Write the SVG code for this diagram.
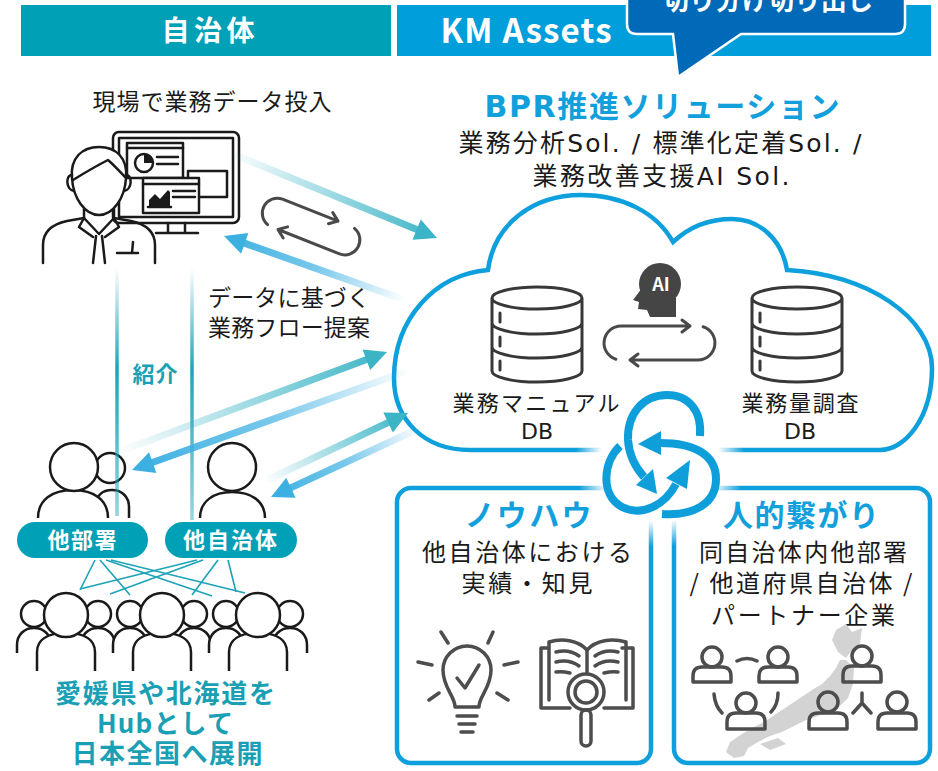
<svg xmlns="http://www.w3.org/2000/svg" width="938" height="771" viewBox="0 0 938 771">
  <style>
    text { font-family: 'Noto Sans CJK JP', 'Noto Sans', sans-serif; }
    .latin { font-family: 'DejaVu Sans', 'Noto Sans CJK JP', sans-serif; }
    .dark { fill: #1a1a1a; }
    .bold { font-weight: 700; }
    .teal { fill: #1a9fb5; }
    .blue { fill: #12a0dc; }
    .white { fill: #ffffff; }
    .mid { text-anchor: middle; }
    .ink { fill: none; stroke: #1a1a1a; stroke-width: 2.5; stroke-linecap: round; stroke-linejoin: round; }
    .ink-w { fill: #ffffff; stroke: #1a1a1a; stroke-width: 2.5; stroke-linejoin: round; }
    .gray { fill: none; stroke: #4d4d4d; stroke-width: 3.5; stroke-linecap: round; stroke-linejoin: round; }
    .loop { fill: none; stroke: #4a4a4a; stroke-width: 3; stroke-linecap: round; stroke-linejoin: round; }
    .db { fill: none; stroke: #383838; stroke-width: 3; stroke-linecap: round; stroke-linejoin: round; }
    .frame { fill: #ffffff; stroke: #0ea0dc; stroke-width: 4.5; }
    .knot { fill: none; stroke: #0e9fdb; stroke-width: 8; }
    .knot-head { fill: #0e9fdb; }
    .link { stroke: #1da3b8; stroke-width: 1.6; fill: none; }
  </style>
  <defs>
    <filter id="soft" x="-10%" y="-10%" width="120%" height="120%">
      <feGaussianBlur stdDeviation="0.7"/>
    </filter>
    <radialGradient id="glow" cx="660" cy="462" r="85" gradientUnits="userSpaceOnUse">
      <stop offset="0" stop-color="#fff" stop-opacity="1"/>
      <stop offset="0.7" stop-color="#fff" stop-opacity="1"/>
      <stop offset="1" stop-color="#fff" stop-opacity="0"/>
    </radialGradient>
    <!-- connector gradients: faint at the tail, solid at the head -->
    <linearGradient id="gA" gradientUnits="userSpaceOnUse" x1="228" y1="152" x2="437" y2="238">
      <stop offset="0" stop-color="#3bb4c6" stop-opacity="0"/>
      <stop offset="1" stop-color="#3bb4c6" stop-opacity="1"/>
    </linearGradient>
    <linearGradient id="gB" gradientUnits="userSpaceOnUse" x1="405" y1="300" x2="224" y2="236">
      <stop offset="0" stop-color="#3db0e2" stop-opacity="0"/>
      <stop offset="0.5" stop-color="#3db0e2" stop-opacity="0.7"/>
      <stop offset="1" stop-color="#3db0e2" stop-opacity="1"/>
    </linearGradient>
    <linearGradient id="gC" gradientUnits="userSpaceOnUse" x1="118" y1="452" x2="387" y2="352">
      <stop offset="0" stop-color="#3bb4c6" stop-opacity="0"/>
      <stop offset="1" stop-color="#3bb4c6" stop-opacity="1"/>
    </linearGradient>
    <linearGradient id="gD" gradientUnits="userSpaceOnUse" x1="410" y1="370" x2="132" y2="470">
      <stop offset="0" stop-color="#3db0e2" stop-opacity="0"/>
      <stop offset="0.5" stop-color="#3db0e2" stop-opacity="0.7"/>
      <stop offset="1" stop-color="#3db0e2" stop-opacity="1"/>
    </linearGradient>
    <linearGradient id="gE" gradientUnits="userSpaceOnUse" x1="263" y1="480" x2="408" y2="413">
      <stop offset="0" stop-color="#3bb4c6" stop-opacity="0"/>
      <stop offset="1" stop-color="#3bb4c6" stop-opacity="1"/>
    </linearGradient>
    <linearGradient id="gF" gradientUnits="userSpaceOnUse" x1="420" y1="428" x2="271" y2="497">
      <stop offset="0" stop-color="#3db0e2" stop-opacity="0"/>
      <stop offset="0.5" stop-color="#3db0e2" stop-opacity="0.7"/>
      <stop offset="1" stop-color="#3db0e2" stop-opacity="1"/>
    </linearGradient>
    <linearGradient id="gV" gradientUnits="userSpaceOnUse" x1="0" y1="268" x2="0" y2="520">
      <stop offset="0" stop-color="#1da3b8" stop-opacity="0"/>
      <stop offset="0.4" stop-color="#1da3b8" stop-opacity="1"/>
      <stop offset="1" stop-color="#1da3b8" stop-opacity="0.45"/>
    </linearGradient>
  </defs>

  <rect width="938" height="771" fill="#ffffff"/>

  <!-- column headers -->
  <g id="header">
    <rect x="21" y="5" width="370" height="51" fill="#00a0b6"/>
    <text x="208" y="41" class="white bold mid" font-size="28" textLength="93" lengthAdjust="spacing">自治体</text>
    <rect x="397" y="5" width="534" height="51" fill="#009fdc"/>
    <text x="526" y="43" class="white bold mid" font-size="33" textLength="171" lengthAdjust="spacing">KM Assets</text>
  </g>

  <!-- speech bubble -->
  <g id="callout">
    <path d="M637,-30 H895 Q905,-30 905,-20 V24 Q905,34 895,34 H741 L678,77 L673,34 H637 Q627,34 627,24 V-20 Q627,-30 637,-30 Z" fill="#0069b8" stroke="#ffffff" stroke-width="2.5"/>
    <text x="768" y="10" class="white bold mid" font-size="26" textLength="210" lengthAdjust="spacing">切り分け切り出し</text>
  </g>

  <!-- solution heading -->
  <g id="solution-title">
    <text x="662" y="117" class="latin blue bold mid" font-size="30" textLength="355" lengthAdjust="spacing">BPR推進ソリューション</text>
    <text x="660" y="152" class="latin dark mid" font-size="25" textLength="403" lengthAdjust="spacing">業務分析Sol. / 標準化定着Sol. /</text>
    <text x="661" y="185" class="latin dark mid" font-size="25" textLength="257" lengthAdjust="spacing">業務改善支援AI Sol.</text>
  </g>

  <!-- staff member entering data -->
  <g id="node-staff">
    <text x="212" y="110" class="dark mid" font-size="23" textLength="239" lengthAdjust="spacing">現場で業務データ投入</text>
    <rect x="113" y="132" width="126" height="91" rx="6" class="ink-w"/>
    <rect x="119" y="138" width="114" height="79" class="ink"/>
    <path d="M168,223 V233 M185,223 V233 M156,233 H198" class="ink"/>
    <rect x="127" y="143" width="56" height="35" class="ink-w" stroke-width="2"/>
    <path d="M127,148 H183" class="ink" stroke-width="2"/>
    <circle cx="144" cy="163" r="9" class="ink" stroke-width="2.2"/>
    <path d="M144,163 V154 A9,9 0 0 1 153,163 Z" fill="#1a1a1a"/>
    <path d="M157,157 H178 M157,164 H178" class="ink" stroke-width="2"/>
    <rect x="188" y="171" width="39" height="26" class="ink-w" stroke-width="2"/>
    <rect x="143" y="178" width="56" height="35" class="ink-w" stroke-width="2"/>
    <path d="M143,184 H199" class="ink" stroke-width="2"/>
    <path d="M149,207 V200 L155,194 L160,199 L168,190 L170,192 V207 Z" fill="#1a1a1a"/>
    <path d="M148,207 H171" class="ink" stroke-width="2"/>
    <path d="M173,191 H195 M173,197 H195" class="ink" stroke-width="2"/>
    <!-- head -->
    <path d="M72,178 C70,158 82,147 99,147 C116,147 128,158 126,178 C125,198 113,215 99,215 C85,215 73,198 72,178 Z" class="ink-w"/>
    <path d="M73,180 C86,172 98,165 108,160 C114,165 120,172 125,177" class="ink"/>
    <path d="M72,175 C65,175 66,190 74,191 M126,175 C133,175 132,190 124,191" class="ink"/>
    <!-- body -->
    <path d="M84,209 V219 M114,209 V219" class="ink"/>
    <path d="M43,263 V245 C43,231 53,224 67,221 L84,218" class="ink"/>
    <path d="M155,263 V245 C155,231 145,224 131,221 L114,218" class="ink"/>
    <path d="M84,218 L79,227 L93,237 M114,218 L119,227 L105,237 M84,218 L99,234 L114,218" class="ink"/>
    <path d="M96,236 L93,263 M102,236 L105,263" class="ink"/>
    <path d="M117,253 H138 M133,242 L132,253" class="ink"/>
  </g>

  <!-- loop symbol between staff and cloud -->
  <g id="loop-left" filter="url(#soft)">
    <path d="M267.6,224.6 A15,15 0 0 1 282.5,199.1 L338,221.1 M332.8,212.6 L338,221.1 L328.4,223.7" class="loop"/>
    <path d="M354.5,228.4 A15,15 0 0 1 339.5,253.9 L278,229.5 M287.6,226.9 L278,229.5 L283.2,238" class="loop"/>
  </g>

  <text x="208" y="306" class="dark" font-size="23" textLength="162" lengthAdjust="spacing">データに基づく</text>
  <text x="208" y="336" class="dark" font-size="23" textLength="162" lengthAdjust="spacing">業務フロー提案</text>

  <!-- cloud holding the two databases -->
  <g id="node-cloud">
    <path d="M470,450 C424,450 394,420 394,378 C394,318 436,274 488,270 C494,224 533,195 581,195 C623,195 657,213 673,242 C689,227 709,219 732,219 C760,219 782,240 787,270 C868,274 932,318 932,368 C932,418 905,450 880,450 Z" class="frame"/>
  </g>

  <!-- knowledge panels -->
  <g id="node-knowhow">
    <rect x="397" y="488" width="254" height="275" rx="14" class="frame"/>
  </g>
  <g id="node-network">
    <rect x="674" y="488" width="256" height="275" rx="14" class="frame"/>
  </g>

  <!-- soft white backdrop behind the linking knot -->
  <circle cx="660" cy="462" r="85" fill="url(#glow)"/>

  <g id="node-db-manual">
    <path d="M492,298 A45,11 0 0 1 582,298 A45,11 0 0 1 492,298 Z M492,298 V371 A45,11 0 0 0 582,371 V298 M492,323 A45,11 0 0 0 582,323 M492,347 A45,11 0 0 0 582,347 M500,313 V322 M500,337 V346 M500,361 V370" class="db"/>
    <text x="536" y="411" class="dark mid" font-size="22" textLength="167" lengthAdjust="spacing">業務マニュアル</text>
    <text x="537" y="439" class="latin dark mid" font-size="22">DB</text>
  </g>
  <g id="node-db-volume">
    <path d="M752,298 A45,11 0 0 1 842,298 A45,11 0 0 1 752,298 Z M752,298 V371 A45,11 0 0 0 842,371 V298 M752,323 A45,11 0 0 0 842,323 M752,347 A45,11 0 0 0 842,347 M760,313 V322 M760,337 V346 M760,361 V370" class="db"/>
    <text x="800" y="411" class="dark mid" font-size="22" textLength="117" lengthAdjust="spacing">業務量調査</text>
    <text x="800" y="439" class="latin dark mid" font-size="22">DB</text>
  </g>

  <g id="node-ai">
    <circle cx="660" cy="284" r="21" fill="#454545"/>
    <path d="M642,288 L633,300 L639,302 L638,309 L647,310 L650,317 L676,317 L676,298 Z" fill="#454545"/>
    <text x="661" y="291" class="white bold mid" font-size="18">AI</text>
  </g>
  <g id="loop-db" filter="url(#soft)">
    <path d="M615.9,359.2 A17,17 0 0 1 621,326 L690,326 M682,320 L690,326 L682,332" class="loop"/>
    <path d="M703.1,326.8 A17,17 0 0 1 698,360 L630,360 M638,354 L630,360 L638,366" class="loop"/>
  </g>

  <!-- linking knot -->
  <g id="knot">
    <path d="M700,436 C702,410 688,395 667,395 C643,395 627,414 628,440 C629,456 636,468 644,477" class="knot"/>
    <polygon points="657,494 636,485 653,469" class="knot-head"/>
    <path d="M620,446 C603,462 600,495 622,507 C642,517 665,505 676,484" class="knot"/>
    <polygon points="690,460 687,489 666,478" class="knot-head"/>
    <path d="M662,514 C693,516 716,504 716,479 C716,455 695,443 660,443" class="knot"/>
    <polygon points="638,444 661,431 661,455" class="knot-head"/>
  </g>

  <!-- panel contents -->
  <g id="knowhow-text">
    <text x="528" y="526" class="blue bold mid" font-size="30" textLength="127" lengthAdjust="spacing">ノウハウ</text>
    <text x="527" y="561" class="dark mid" font-size="24" textLength="210" lengthAdjust="spacing">他自治体における</text>
    <text x="527" y="592" class="dark mid" font-size="24" textLength="131" lengthAdjust="spacing">実績・知見</text>
  </g>
  <g id="knowhow-icons" filter="url(#soft)">
    <path d="M455,707 C455,696 443,688 443,670 A24,24 0 1 1 491,670 C491,688 479,696 479,707 Z" class="gray"/>
    <path d="M457,678 L465,688 L479,665" class="gray"/>
    <path d="M457,716 H477 M459,724 H475 M461,732 H473" class="gray"/>
    <path d="M441,632 L448,643 M493,632 L488,643 M418,662 L432,665 M504,665 L518,662 M429,700 L439,693 M497,693 L508,700" class="gray"/>
    <!-- open book with magnifier -->
    <path d="M548,648 H541 V708 H570 M622,648 H633 V708 H604" class="gray"/>
    <path d="M549,700 V642 C562,638 578,640 587,650 C596,640 612,638 626,642 V700" class="gray"/>
    <path d="M587,650 V672" class="gray"/>
    <path d="M556,652 C564,650 572,651 579,656 M556,662 C564,660 572,661 579,666 M556,672 C562,671 566,672 570,673 M595,656 C602,651 610,650 618,652 M595,666 C602,661 610,660 618,662 M604,673 C608,672 612,671 618,672" class="gray" stroke-width="3"/>
    <circle cx="586" cy="692" r="18" fill="#ffffff" class="gray"/>
    <circle cx="586" cy="692" r="11" class="gray" stroke-width="3"/>
    <rect x="581" y="710" width="10" height="36" rx="5" class="gray" stroke-width="3"/>
  </g>

  <g id="network-text">
    <text x="801" y="526" class="blue bold mid" font-size="30" textLength="156" lengthAdjust="spacing">人的繋がり</text>
    <text x="803" y="561" class="dark mid" font-size="24" textLength="208" lengthAdjust="spacing">同自治体内他部署</text>
    <text x="801" y="592" class="dark mid" font-size="24" textLength="223" lengthAdjust="spacing">/ 他道府県自治体 /</text>
    <text x="803" y="624" class="dark mid" font-size="24" textLength="184" lengthAdjust="spacing">パートナー企業</text>
  </g>
  <g id="network-icons">
    <g fill="#d3d3d3" filter="url(#soft)">
      <path d="M836,630 L846,624 L852,632 L862,628 L860,644 L852,650 L846,658 L838,652 L832,640 Z"/>
      <path d="M846,660 L854,668 L853,684 L848,698 L840,706 L830,712 L818,716 L806,720 L794,726 L782,732 L770,736 L758,742 L748,748 L744,756 L734,758 L726,752 L730,742 L742,734 L752,728 L764,722 L776,714 L788,706 L800,698 L812,690 L822,684 L830,676 L836,668 L840,660 Z"/>
      <path d="M760,744 L778,738 L786,744 L770,750 Z"/>
    </g>
    <g filter="url(#soft)">
      <circle cx="712" cy="657" r="10" class="gray"/>
      <path d="M693,682 V676 Q693,667 702,667 H722 Q731,667 731,676 V682 Z" class="gray"/>
      <circle cx="778" cy="657" r="10" class="gray"/>
      <path d="M759,682 V676 Q759,667 768,667 H788 Q797,667 797,676 V682 Z" class="gray"/>
      <circle cx="746" cy="703" r="10" class="gray"/>
      <path d="M727,729 V722 Q727,713 736,713 H756 Q765,713 765,722 V729 Z" class="gray"/>
      <circle cx="862" cy="656" r="10" class="gray"/>
      <path d="M843,682 V675 Q843,666 852,666 H872 Q881,666 881,675 V682 Z" class="gray"/>
      <circle cx="828" cy="702" r="10" class="gray"/>
      <path d="M809,729 V722 Q809,713 818,713 H838 Q847,713 847,722 V729 Z" class="gray"/>
      <circle cx="897" cy="702" r="10" class="gray"/>
      <path d="M878,729 V722 Q878,713 887,713 H907 Q916,713 916,722 V729 Z" class="gray"/>
      <path d="M737,661 Q747,656 757,661 M714,694 Q715,706 722,713 M778,693 Q778,705 771,712 M862,693 V703 L853,713 M862,703 L871,713" class="gray"/>
    </g>
  </g>

  <!-- other departments / other municipalities -->
  <g id="node-other-dept">
    <circle cx="110" cy="468" r="15" class="ink-w"/>
    <path d="M96,518 V505 C96,496 102,490 112,490 C122,490 129,497 129,507 V518" class="ink-w"/>
    <path d="M38,518 C38,500 52,490 73,490 C94,490 108,500 108,518" class="ink-w"/>
    <circle cx="74" cy="467" r="24" class="ink-w"/>
    <rect x="17" y="522" width="131" height="36" rx="18" fill="#00a0b6"/>
    <text x="82" y="548" class="white bold mid" font-size="22" textLength="69" lengthAdjust="spacing">他部署</text>
  </g>
  <g id="node-other-municipality">
    <path d="M200,518 C200,501 214,492 232,492 C251,492 265,501 265,518" class="ink-w"/>
    <circle cx="232" cy="467" r="24" class="ink-w"/>
    <rect x="165" y="522" width="132" height="36" rx="18" fill="#00a0b6"/>
    <text x="230" y="548" class="white bold mid" font-size="22" textLength="94" lengthAdjust="spacing">他自治体</text>
  </g>

  <!-- people across the country -->
  <g id="node-crowd">
    <g id="crowd-1">
      <path d="M17,653 V645 C17,635 24,628 34,628 C44,628 51,635 51,645 V653" class="ink-w"/>
      <path d="M81,653 V645 C81,635 88,628 98,628 C108,628 115,635 115,645 V653" class="ink-w"/>
      <circle cx="34" cy="614" r="13" class="ink-w"/>
      <circle cx="98" cy="614" r="13" class="ink-w"/>
      <path d="M37,671 V652 C37,640 47,633 66,633 C85,633 95,640 95,652 V671" class="ink-w"/>
      <circle cx="66" cy="615" r="22" class="ink-w"/>
    </g>
    <g id="crowd-2">
      <path d="M113,653 V645 C113,635 120,628 130,628 C140,628 147,635 147,645 V653" class="ink-w"/>
      <path d="M177,653 V645 C177,635 184,628 194,628 C204,628 211,635 211,645 V653" class="ink-w"/>
      <circle cx="130" cy="614" r="13" class="ink-w"/>
      <circle cx="194" cy="614" r="13" class="ink-w"/>
      <path d="M133,671 V652 C133,640 143,633 162,633 C181,633 191,640 191,652 V671" class="ink-w"/>
      <circle cx="162" cy="615" r="22" class="ink-w"/>
    </g>
    <g id="crowd-3">
      <path d="M209,653 V645 C209,635 216,628 226,628 C236,628 243,635 243,645 V653" class="ink-w"/>
      <path d="M273,653 V645 C273,635 280,628 290,628 C300,628 307,635 307,645 V653" class="ink-w"/>
      <circle cx="226" cy="614" r="13" class="ink-w"/>
      <circle cx="290" cy="614" r="13" class="ink-w"/>
      <path d="M229,671 V652 C229,640 239,633 258,633 C277,633 287,640 287,652 V671" class="ink-w"/>
      <circle cx="258" cy="615" r="22" class="ink-w"/>
    </g>
    <text x="165" y="703" class="teal bold mid" font-size="26" textLength="220" lengthAdjust="spacing">愛媛県や北海道を</text>
    <text x="165" y="733" class="teal bold mid" font-size="26" textLength="136" lengthAdjust="spacing">Hubとして</text>
    <text x="167" y="763" class="teal bold mid" font-size="26" textLength="191" lengthAdjust="spacing">日本全国へ展開</text>
  </g>

  <!-- connectors -->
  <g id="connectors">
    <path d="M117,268 V516" stroke="url(#gV)" stroke-width="3.5"/>
    <path d="M192,268 V520" stroke="url(#gV)" stroke-width="3.5"/>
    <text x="155" y="382" class="teal bold mid" font-size="22" textLength="45" lengthAdjust="spacing">紹介</text>

    <path d="M95,560 L80,590 M100,560 L130,595 M106,560 L212,596 M111,560 L245,593" class="link"/>
    <path d="M197,560 L80,589 M203,560 L110,594 M218,560 L192,595 M228,560 L236,592" class="link"/>

    <g id="edge-staff-to-cloud">
      <path d="M228,152 L418,230" stroke="url(#gA)" stroke-width="7"/>
      <polygon points="437,238 412.5,239.8 420.8,219.5" fill="#3bb4c6"/>
    </g>
    <g id="edge-cloud-to-staff">
      <path d="M405,300 L243,242.6" stroke="url(#gB)" stroke-width="7"/>
      <polygon points="224,236 248.4,233 241.1,253.7" fill="#3db0e2"/>
    </g>
    <g id="edge-dept-to-cloud">
      <path d="M118,452 L368,359" stroke="url(#gC)" stroke-width="7"/>
      <polygon points="387,352 370.2,370 362.6,349.4" fill="#3bb4c6"/>
    </g>
    <g id="edge-cloud-to-dept">
      <path d="M410,370 L151,463" stroke="url(#gD)" stroke-width="7"/>
      <polygon points="132,470 149,452.2 156.4,472.9" fill="#3db0e2"/>
    </g>
    <g id="edge-municipality-to-cloud">
      <path d="M263,482 L390,421.7" stroke="url(#gE)" stroke-width="7"/>
      <polygon points="408,413 392.9,432.4 383.4,412.6" fill="#3bb4c6"/>
    </g>
    <g id="edge-cloud-to-municipality">
      <path d="M420,428 L289,488.6" stroke="url(#gF)" stroke-width="7"/>
      <polygon points="271,497 286.3,477.8 295.6,497.7" fill="#3db0e2"/>
    </g>
  </g>
</svg>
